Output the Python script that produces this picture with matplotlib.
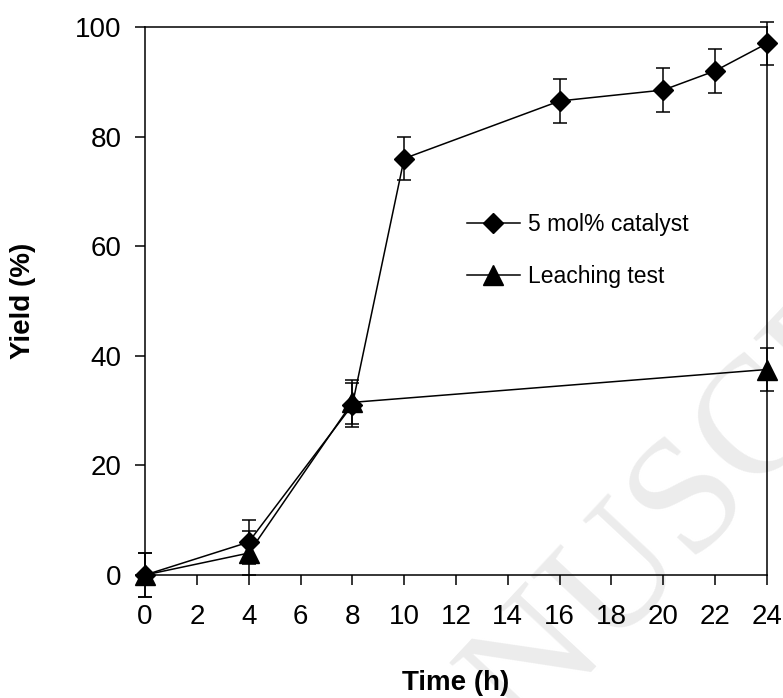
import matplotlib
matplotlib.use("Agg")
import matplotlib.pyplot as plt

plt.rcParams['font.family'] = ['Liberation Sans', 'DejaVu Sans']

time_cat = [0, 4, 8, 10, 16, 20, 22, 24]
yield_cat = [0, 6, 31, 76, 86.5, 88.5, 92, 97]
err_cat = [4, 4, 4, 4, 4, 4, 4, 4]

time_leach = [0, 4, 8, 24]
yield_leach = [0, 4, 31.5, 37.5]
err_leach = [4, 4, 4, 4]

label_cat = "5 mol% catalyst"
label_leach = "Leaching test"
xticks = list(range(0, 25, 2))
yticks = [0, 20, 40, 60, 80, 100]

fig = plt.figure(figsize=(7.83, 6.98), dpi=100)
ax = fig.add_axes([145/783, 1 - 575/698, (767-145)/783, (575-27)/698])

# watermark
fig.text(0.868, 0.264, "MANUSCRIPT", family='Liberation Serif', fontsize=120,
         color='#ececec', rotation=47, rotation_mode='anchor',
         ha='center', va='center', zorder=-1)
ax.set_facecolor('none')

ax.errorbar(time_cat, yield_cat, yerr=err_cat, color='black', marker='D',
            markersize=10.5, linewidth=1.1, elinewidth=1.1, capsize=5, capthick=1.1,
            label=label_cat, clip_on=False, zorder=3)
ax.errorbar(time_leach, yield_leach, yerr=err_leach, color='black', marker='^',
            markersize=14, linewidth=1.1, elinewidth=1.1, capsize=5, capthick=1.1,
            label=label_leach, clip_on=False, zorder=3)

ax.set_xlim(0, 24)
ax.set_ylim(0, 100)
ax.set_xticks(xticks)
ax.set_yticks(yticks)
ax.tick_params(direction='out', length=7, width=1.1, labelsize=20)
ax.tick_params(axis='x', pad=14)
ax.tick_params(axis='y', pad=10)
for s in ax.spines.values():
    s.set_linewidth(1.1)

ax.set_xlabel("Time (h)", fontsize=20, fontweight='bold')
ax.set_ylabel("Yield (%)", fontsize=20, fontweight='bold')
ax.xaxis.set_label_coords(0.5, -(683-575)/548, transform=ax.transAxes)
ax.yaxis.set_label_coords(-(145-23)/622, 0.5, transform=ax.transAxes)
ax.xaxis.label.set_va('center')
ax.yaxis.label.set_va('center')

handles, labels = ax.get_legend_handles_labels()
handles = [h[0] for h in handles]
leg = ax.legend(handles, labels, loc='upper left', bbox_to_anchor=(467/783, 1 - 213/698),
                bbox_transform=fig.transFigure, frameon=False, fontsize=16.5,
                handlelength=2.3, handletextpad=0.35, labelspacing=1.25, borderpad=0,
                borderaxespad=0)

fig.savefig("out.png", dpi=100)
